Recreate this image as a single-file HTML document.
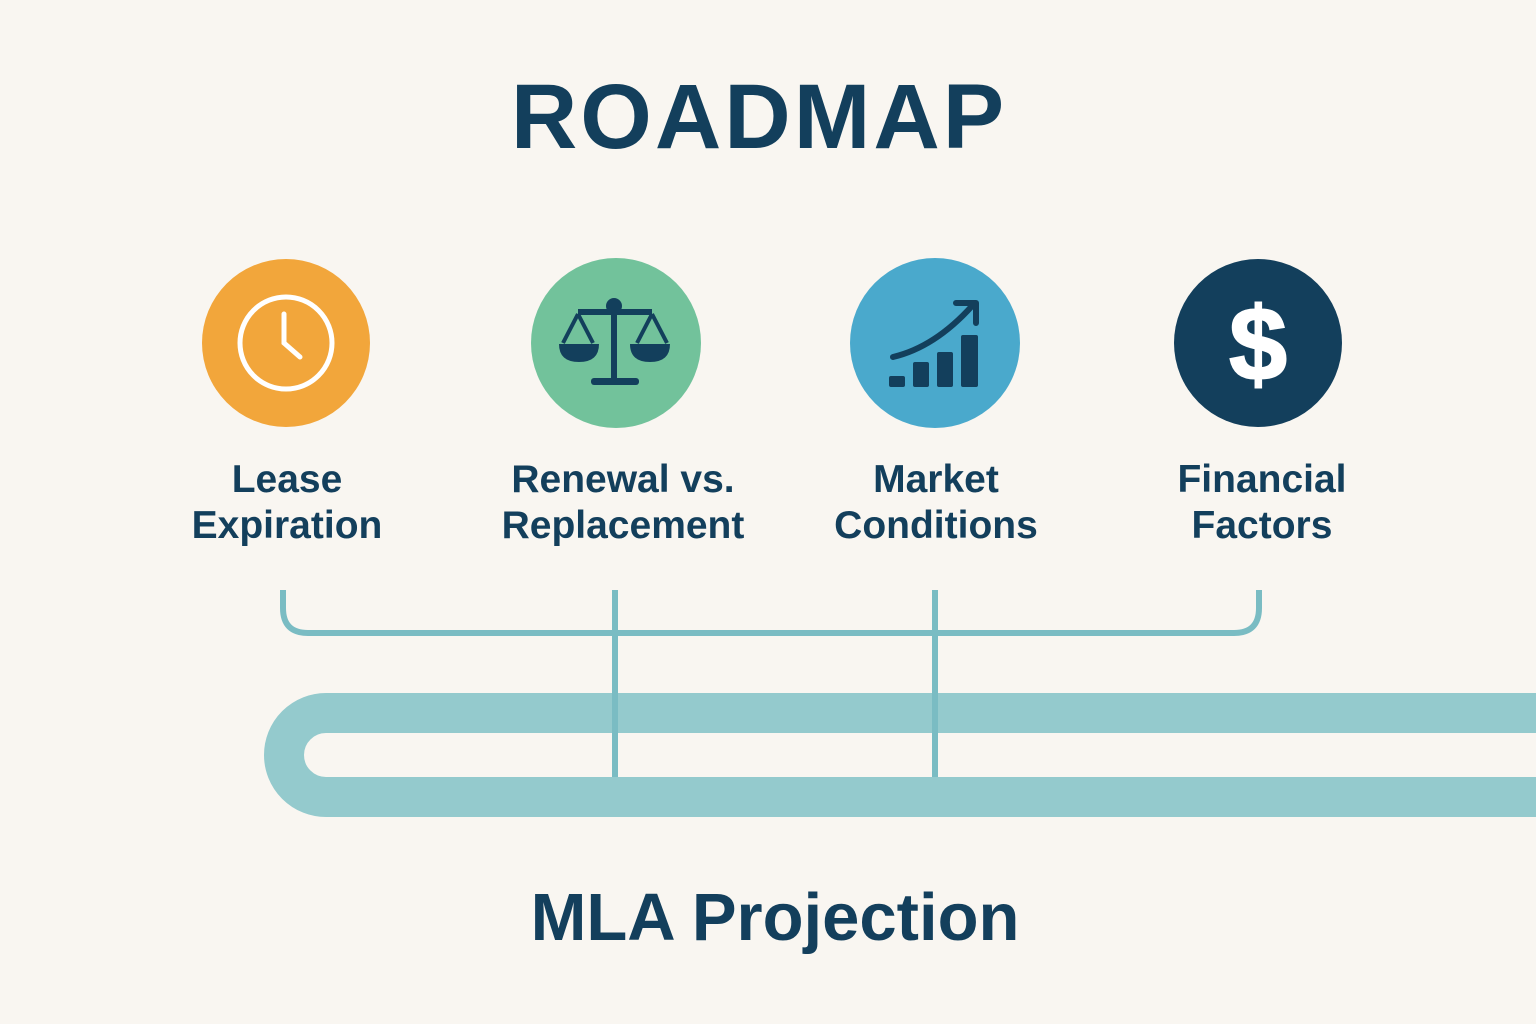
<!DOCTYPE html>
<html><head><meta charset="utf-8"><style>
html,body{margin:0;padding:0;background:#f9f6f1}
svg{display:block}
text{font-family:"Liberation Sans","DejaVu Sans",sans-serif;fill:#133f5c}
</style></head><body>
<svg width="1536" height="1024" viewBox="0 0 1536 1024" xmlns="http://www.w3.org/2000/svg">
<rect width="1536" height="1024" fill="#f9f6f1"/>
<text x="759" y="148" text-anchor="middle" font-size="92" font-weight="bold" letter-spacing="3">ROADMAP</text>

<circle cx="286" cy="343" r="84" fill="#f2a63b"/>
<circle cx="286" cy="343" r="46" fill="none" stroke="#fff" stroke-width="5"/>
<path d="M284 314 V343 L300 357" fill="none" stroke="#fff" stroke-width="5" stroke-linecap="round"/>

<circle cx="616" cy="343" r="85" fill="#72c29b"/>
<g fill="#133f5c" stroke="#133f5c">
<circle cx="614" cy="306" r="8" stroke="none"/>
<rect x="578" y="309" width="74" height="6" stroke="none"/>
<rect x="611" y="310" width="6" height="70" stroke="none"/>
<rect x="591" y="378" width="48" height="7" rx="3" stroke="none"/>
<path d="M578 314 L563 343 M578 314 L593 343 M652 314 L637 343 M652 314 L667 343" stroke-width="4" fill="none"/>
<path d="M559 344 H599 Q599 362 579 362 Q559 362 559 344Z" stroke="none"/>
<path d="M630 344 H670 Q670 362 650 362 Q630 362 630 344Z" stroke="none"/>
</g>

<circle cx="935" cy="343" r="85" fill="#4aa9cc"/>
<g fill="#133f5c">
<rect x="889" y="376" width="16" height="11" rx="2"/>
<rect x="913" y="362" width="16" height="25" rx="2"/>
<rect x="937" y="352" width="16" height="35" rx="2"/>
<rect x="961" y="335" width="17" height="52" rx="2"/>
</g>
<path d="M893 357 Q935 347 972 306" fill="none" stroke="#133f5c" stroke-width="6" stroke-linecap="round"/>
<path d="M956 303 H976 V323" fill="none" stroke="#133f5c" stroke-width="6" stroke-linecap="round" stroke-linejoin="round"/>

<circle cx="1258" cy="343" r="84" fill="#133f5c"/>
<text x="1258" y="380" text-anchor="middle" font-size="104" font-weight="bold" style="fill:#fff;stroke:#fff;stroke-width:2">$</text>

<g font-size="39" font-weight="bold" text-anchor="middle">
<text x="287" y="492">Lease</text><text x="287" y="538">Expiration</text>
<text x="623" y="492">Renewal vs.</text><text x="623" y="538">Replacement</text>
<text x="936" y="492">Market</text><text x="936" y="538">Conditions</text>
<text x="1262" y="492">Financial</text><text x="1262" y="538">Factors</text>
</g>

<path d="M1540 713 H326 A42 42 0 0 0 326 797 H1540" fill="none" stroke="#94cacd" stroke-width="40"/>
<path d="M283 590 V608 Q283 633 308 633 H1234 Q1259 633 1259 608 V590" fill="none" stroke="#7abcc3" stroke-width="6"/>
<line x1="615" y1="590" x2="615" y2="777" stroke="#7abcc3" stroke-width="6"/>
<line x1="935" y1="590" x2="935" y2="777" stroke="#7abcc3" stroke-width="6"/>

<text x="775" y="940" text-anchor="middle" font-size="67" font-weight="bold">MLA Projection</text>
</svg>
</body></html>
